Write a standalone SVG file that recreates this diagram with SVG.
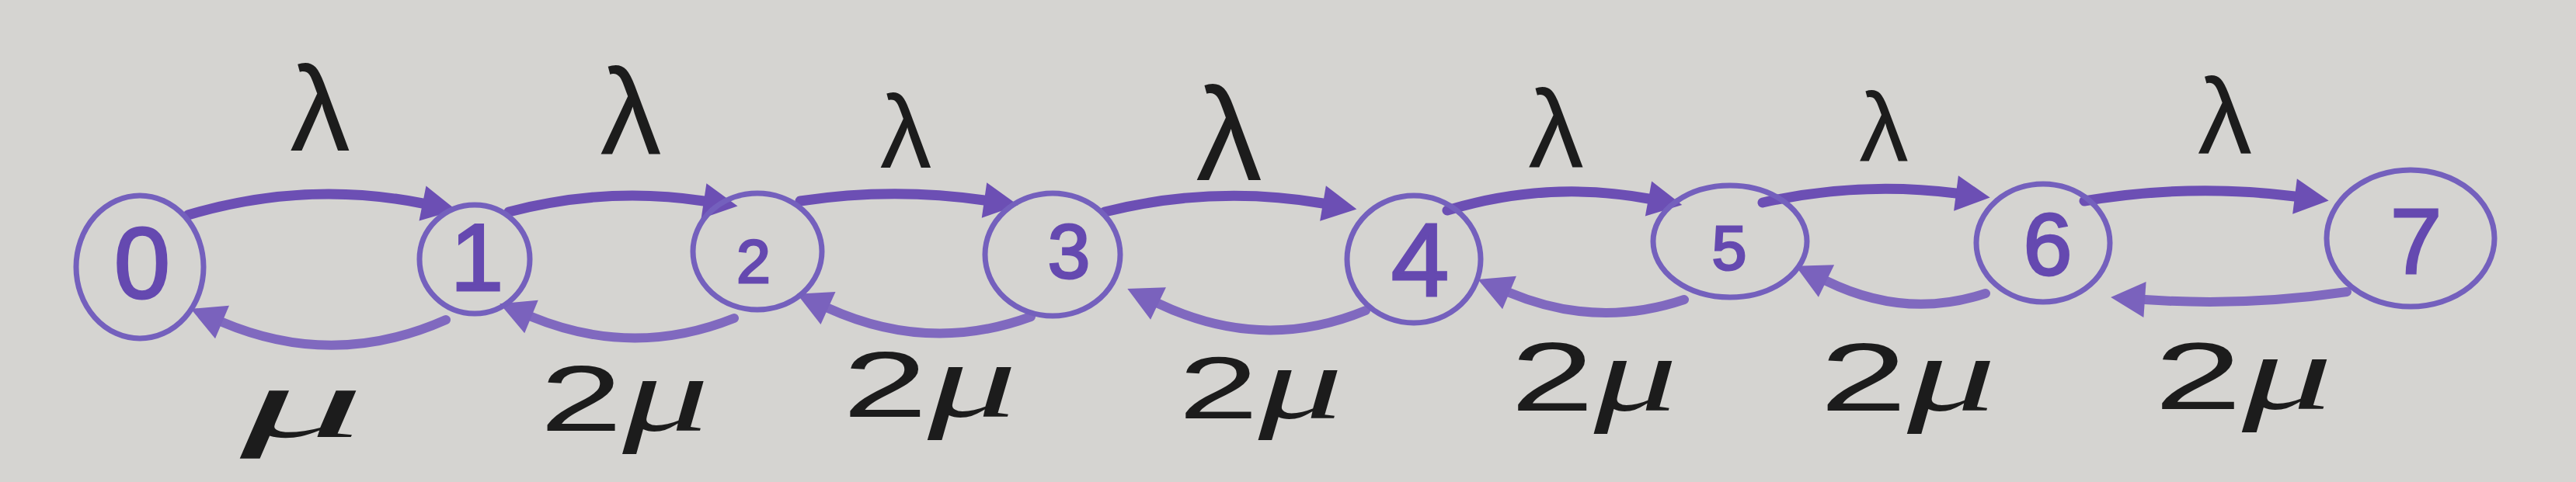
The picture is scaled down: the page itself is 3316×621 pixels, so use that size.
<svg xmlns="http://www.w3.org/2000/svg" width="3316" height="621" viewBox="0 0 3316 621">
<style>
.bg{fill:#d5d4d1}
.node{fill:none;stroke:#7460bd;stroke-width:7}
.digit{fill:#6549b0;stroke:#6549b0;stroke-width:3;font-family:"Liberation Sans",Arial,sans-serif;text-anchor:middle}
.top{fill:none;stroke:#6c4fb4;stroke-width:13;stroke-linecap:round}
.bot{fill:none;stroke:#8069bf;stroke-width:12;stroke-linecap:round}
.lab{fill:#1c1c1c;font-family:"Liberation Sans",Arial,sans-serif;text-anchor:middle}
.mu{font-family:"Liberation Serif","Times New Roman",serif;font-style:italic}
</style>
<defs>
<marker id="headT" markerUnits="userSpaceOnUse" viewBox="-2 -26 50 52" refX="0" refY="0" markerWidth="50" markerHeight="52" orient="auto">
<path d="M0,-23 L44,0 L0,23 z" fill="#6c4fb4"/>
</marker>
<marker id="headB" markerUnits="userSpaceOnUse" viewBox="-2 -26 50 52" refX="0" refY="0" markerWidth="50" markerHeight="52" orient="auto">
<path d="M0,-23 L44,0 L0,23 z" fill="#7a62bd"/>
</marker>
</defs>
<rect class="bg" x="0" y="0" width="3316" height="621"/>
<g id="connectors">
<path class="top" d="M242,277 Q393,232 544,262" marker-end="url(#headT)"/>
<path class="top" d="M655,273 Q780,240 906,259" marker-end="url(#headT)"/>
<path class="top" d="M1030,259 Q1148,241 1267,258" marker-end="url(#headT)"/>
<path class="top" d="M1422,273 Q1562,238 1703,262" marker-end="url(#headT)"/>
<path class="top" d="M1863,271 Q1992,232 2122,256" marker-end="url(#headT)"/>
<path class="top" d="M2269,261 Q2393,233 2518,249" marker-end="url(#headT)"/>
<path class="top" d="M2683,259 Q2818,236 2954,253" marker-end="url(#headT)"/>
<path class="bot" d="M574,412 Q430,476 286,415" marker-end="url(#headB)"/>
<path class="bot" d="M945,410 Q815,462 684,408" marker-end="url(#headB)"/>
<path class="bot" d="M1327,408 Q1196,456 1066,397" marker-end="url(#headB)"/>
<path class="bot" d="M1758,400 Q1625,455 1491,391" marker-end="url(#headB)"/>
<path class="bot" d="M2168,386 Q2055,424 1943,377" marker-end="url(#headB)"/>
<path class="bot" d="M2556,378 Q2453,412 2351,362" marker-end="url(#headB)"/>
<path class="bot" d="M3021,376 Q2891,395 2761,386" marker-end="url(#headB)"/>
</g>
<g id="labels">
<text class="lab" x="412" y="194" font-size="155">λ</text>
<text class="lab" x="812" y="198" font-size="158">λ</text>
<text class="lab" x="1166" y="216" font-size="133">λ</text>
<text class="lab" x="1582" y="232" font-size="170">λ</text>
<text class="lab" x="2003" y="216" font-size="143">λ</text>
<text class="lab" x="2425" y="208" font-size="127">λ</text>
<text class="lab" x="2864" y="198" font-size="140">λ</text>
<text class="lab mu" x="389" y="563" font-size="130" textLength="160" lengthAdjust="spacingAndGlyphs">μ</text>
<text class="lab" x="804" y="555" font-size="120" textLength="218" lengthAdjust="spacingAndGlyphs">2<tspan class="mu" font-size="140">μ</tspan></text>
<text class="lab" x="1197" y="537" font-size="120" textLength="225" lengthAdjust="spacingAndGlyphs">2<tspan class="mu" font-size="140">μ</tspan></text>
<text class="lab" x="1623" y="539" font-size="114" textLength="212" lengthAdjust="spacingAndGlyphs">2<tspan class="mu" font-size="134">μ</tspan></text>
<text class="lab" x="2052" y="529" font-size="126" textLength="215" lengthAdjust="spacingAndGlyphs">2<tspan class="mu" font-size="140">μ</tspan></text>
<text class="lab" x="2456" y="529" font-size="124" textLength="227" lengthAdjust="spacingAndGlyphs">2<tspan class="mu" font-size="140">μ</tspan></text>
<text class="lab" x="2888" y="527" font-size="122" textLength="230" lengthAdjust="spacingAndGlyphs">2<tspan class="mu" font-size="140">μ</tspan></text>
</g>
<g id="n0"><ellipse class="node" cx="180" cy="344" rx="82" ry="92" stroke-width="10"/><text class="digit" x="183" y="384" font-size="130">0</text></g>
<g id="n1"><ellipse class="node" cx="611" cy="334" rx="71" ry="70"/><text class="digit" x="614" y="374" font-size="123">1</text></g>
<g id="n2"><ellipse class="node" cx="975" cy="324" rx="83" ry="75"/><text class="digit" x="970" y="364" font-size="78">2</text></g>
<g id="n3"><ellipse class="node" cx="1355" cy="328" rx="87" ry="79"/><text class="digit" x="1376" y="358" font-size="98">3</text></g>
<g id="n4"><ellipse class="node" cx="1820" cy="334" rx="86" ry="82"/><text class="digit" x="1828" y="381" font-size="134">4</text></g>
<g id="n5"><ellipse class="node" cx="2227" cy="311" rx="99" ry="72"/><text class="digit" x="2226" y="347" font-size="80">5</text></g>
<g id="n6"><ellipse class="node" cx="2630" cy="313" rx="86" ry="76"/><text class="digit" x="2636" y="354" font-size="113">6</text></g>
<g id="n7"><ellipse class="node" cx="3103" cy="307" rx="108" ry="88"/><text class="digit" x="3110" y="352" font-size="119">7</text></g>
</svg>
